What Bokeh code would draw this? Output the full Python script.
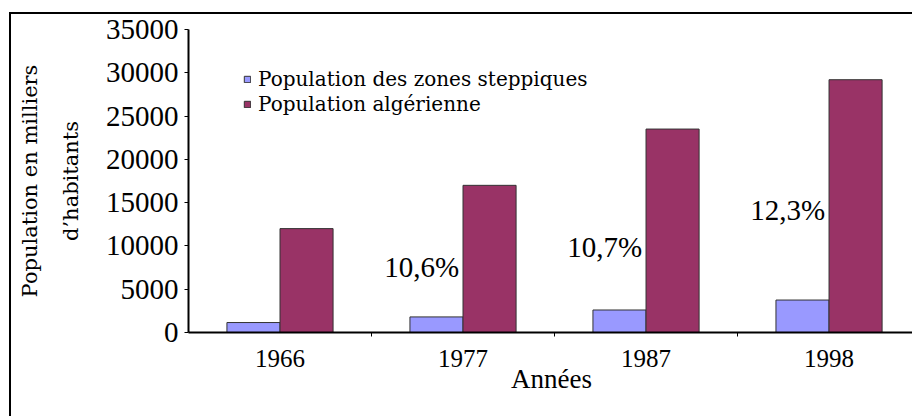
from bokeh.plotting import figure
from bokeh.models import (ColumnDataSource, Range1d, FixedTicker, LinearAxis,
                          Legend, LegendItem, LabelSet)
from bokeh.transform import dodge
from bokeh.embed import file_html
from bokeh.resources import INLINE

# ---- data ----
years = ["1966", "1977", "1987", "1998"]
steppe = [1150, 1800, 2600, 3750]          # Population des zones steppiques (milliers)
algeria = [12000, 17000, 23500, 29200]     # Population algérienne (milliers)
share_years = ["1977", "1987", "1998"]
shares = [10.6, 10.7, 12.3]                # part de la population steppique (%)
y_ticks = [0, 5000, 10000, 15000, 20000, 25000, 30000, 35000]

# ---- placement (layout only) ----
share_label_y = [7600, 9900, 14100]
share_label_dx = -0.43
bar_w = 0.29
SERIF = "Liberation Serif"
SLAB = "DejaVu Serif"

x = [i + 0.5 for i in range(len(years))]
src = ColumnDataSource(dict(x=x, steppe=steppe, algeria=algeria))

p = figure(width=903, height=404,
           x_range=Range1d(0, 3.967), y_range=Range1d(0, 35000),
           output_backend="svg", toolbar_location=None,
           min_border_left=177, min_border_right=0,
           min_border_top=15, min_border_bottom=86,
           styles={"border-left": "2px solid black",
                   "border-top": "2px solid black",
                   "margin-left": "9px", "margin-top": "12px"})
p.outline_line_color = None
p.xgrid.visible = False
p.ygrid.visible = False
p.background_fill_color = "white"

r1 = p.vbar(x=dodge("x", -bar_w / 2), top="steppe", width=bar_w, source=src,
            fill_color="#9999FF", line_color="#333333", line_width=1)
r2 = p.vbar(x=dodge("x", bar_w / 2), top="algeria", width=bar_w, source=src,
            fill_color="#993366", line_color="#333333", line_width=1)

# x axis
xa = p.xaxis[0]
xa.ticker = FixedTicker(ticks=x, minor_ticks=[i for i in range(1, len(years))])
xa.major_label_overrides = {xv: yr for xv, yr in zip(x, years)}
xa.major_tick_line_color = None
xa.major_tick_out = 0
xa.major_tick_in = 0
xa.minor_tick_line_color = "black"
xa.minor_tick_out = 4
xa.minor_tick_in = 0
xa.axis_line_width = 2
xa.axis_line_color = "black"
xa.major_label_text_font = SERIF
xa.major_label_text_font_size = "25px"
xa.major_label_text_color = "black"
xa.major_label_standoff = 13
xa.axis_label = "Années"
xa.axis_label_text_font = SERIF
xa.axis_label_text_font_size = "27px"
xa.axis_label_text_font_style = "normal"
xa.axis_label_text_color = "black"
xa.axis_label_standoff = -6

# y axis
ya = p.yaxis[0]
ya.ticker = FixedTicker(ticks=y_ticks)
ya.major_tick_out = 4
ya.major_tick_in = 0
ya.major_tick_line_color = "black"
ya.minor_tick_line_color = None
ya.axis_line_width = 2
ya.axis_line_color = "black"
ya.major_label_text_font = SERIF
ya.major_label_text_font_size = "29px"
ya.major_label_text_color = "black"
ya.major_label_standoff = 6
ya.axis_label = "d\u2019habitants"
ya.axis_label_text_font = SLAB
ya.axis_label_text_font_size = "21px"
ya.axis_label_text_font_style = "normal"
ya.axis_label_text_color = "black"
ya.axis_label_standoff = 20

ya2 = LinearAxis(ticker=FixedTicker(ticks=[]), axis_line_color=None,
                 major_tick_line_color=None, minor_tick_line_color=None,
                 major_tick_out=0, major_tick_in=0, minor_tick_out=0,
                 axis_label="Population en milliers",
                 axis_label_text_font=SLAB,
                 axis_label_text_font_size="21px",
                 axis_label_text_font_style="normal",
                 axis_label_text_color="black",
                 axis_label_standoff=14)
p.add_layout(ya2, "left")

# share labels
lab_src = ColumnDataSource(dict(
    x=[x[years.index(yr)] + share_label_dx for yr in share_years],
    y=share_label_y,
    text=[("%.1f" % s).replace(".", ",") + "%" for s in shares]))
p.add_layout(LabelSet(x="x", y="y", text="text", source=lab_src,
                      text_font=SERIF, text_font_size="29px",
                      text_color="black", text_align="left",
                      text_baseline="middle"))

legend = Legend(items=[LegendItem(label="Population des zones steppiques", renderers=[r1]),
                       LegendItem(label="Population algérienne", renderers=[r2])],
                location=(55, 216), orientation="vertical",
                glyph_width=8, glyph_height=8, label_standoff=7,
                label_height=25, spacing=0, padding=0, margin=0,
                label_text_font=SLAB, label_text_font_size="20px",
                label_text_color="black", label_text_baseline="middle",
                background_fill_alpha=0, border_line_color=None)
p.add_layout(legend)

open("out.html", "w").write(file_html(p, INLINE))
